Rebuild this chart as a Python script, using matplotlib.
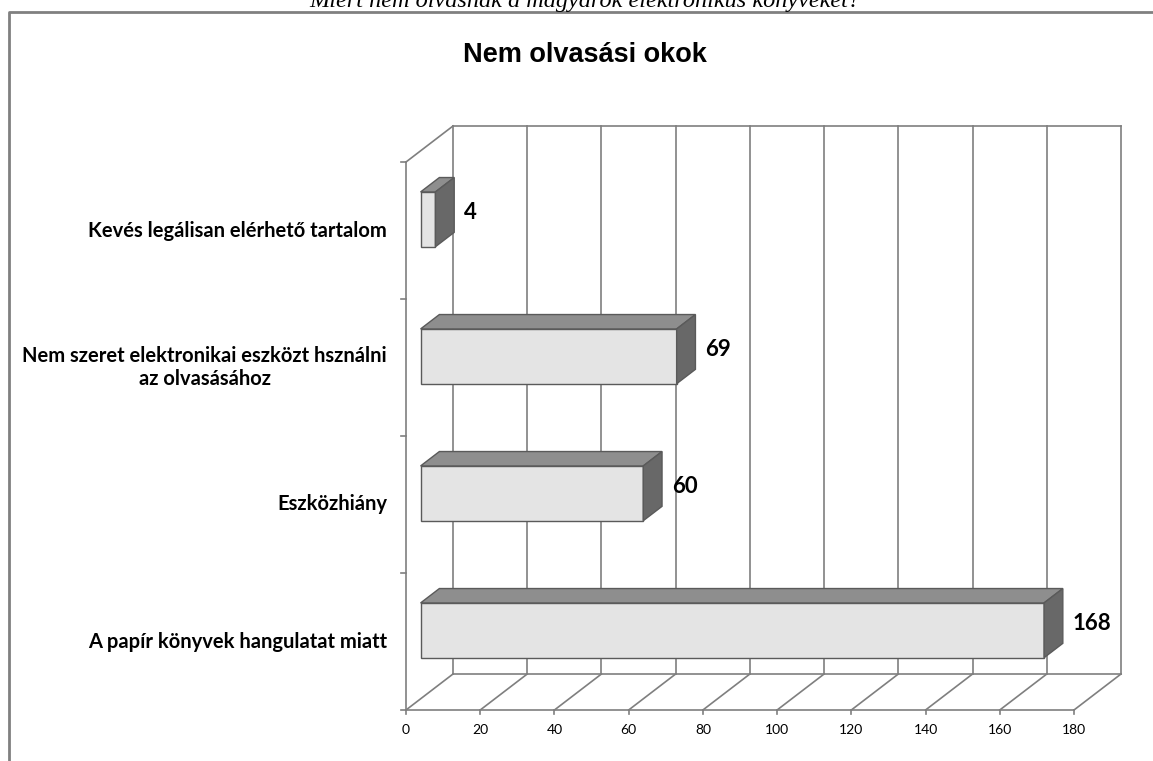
import matplotlib
matplotlib.use("Agg")
import matplotlib.pyplot as plt
import matplotlib.transforms as mtransforms
from matplotlib.patches import Polygon

# data (top to bottom, as in the chart)
categories = [
    "Kevés legálisan elérhető tartalom",
    "Nem szeret elektronikai eszközt hsználni\naz olvasásához",
    "Eszközhiány",
    "A papír könyvek hangulatat miatt",
]
values = [4, 69, 60, 168]
x_ticks = [0, 20, 40, 60, 80, 100, 120, 140, 160, 180]
title = "Nem olvasási okok"
caption = "Miért nem olvasnak a magyarok elektronikus könyveket?"

W, H, DPI = 1153, 761, 100
DX, DY = 47, 36          # full depth offset in pixels
D_FRONT, D_BACK = 0.31, 0.71
BAR_H = 0.4

C_GRID = "#7f7f7f"
C_FRONT = "#e4e4e4"
C_TOP = "#8e8e8e"
C_SIDE = "#686868"
C_EDGE = "#5a5a5a"
LABEL_FONT = ["Lato", "DejaVu Sans"]

fig = plt.figure(figsize=(W / DPI, H / DPI), dpi=DPI)
ax = fig.add_axes([406 / W, 51 / H, 668 / W, 548 / H])
ax.set_xlim(0, 180)
ax.set_ylim(0, len(categories))
ax.axis("off")
ident = mtransforms.IdentityTransform()


def proj(v, c, d):
    # value/category through the axes, depth as a pixel offset
    x, y = ax.transData.transform((v, c))
    return (x + d * DX, y + d * DY)


def line3(p0, p1, **kw):
    a, b = proj(*p0), proj(*p1)
    ax.add_line(plt.Line2D([a[0], b[0]], [a[1], b[1]], transform=ident,
                           color=C_GRID, lw=1.2, clip_on=False, **kw))


n = len(categories)
xmax = x_ticks[-1]

# back wall: vertical gridlines + top edge
for v in x_ticks:
    line3((v, 0, 1), (v, n, 1), zorder=1)
line3((0, n, 1), (xmax, n, 1), zorder=1)
# floor
line3((0, 0, 0), (xmax, 0, 0), zorder=1)
line3((0, 0, 1), (xmax, 0, 1), zorder=1)
for v in x_ticks:
    line3((v, 0, 0), (v, 0, 1), zorder=1)
# left wall
line3((0, 0, 0), (0, n, 0), zorder=1)
line3((0, n, 0), (0, n, 1), zorder=1)

# ticks
for v in x_ticks:
    a = proj(v, 0, 0)
    ax.add_line(plt.Line2D([a[0], a[0]], [a[1], a[1] - 4], transform=ident,
                           color=C_GRID, lw=1.2, clip_on=False))
    ax.text(a[0], a[1] - 20, str(v), transform=ident, ha="center", va="center",
            fontsize=10, family=LABEL_FONT)
for k in range(n + 1):
    a = proj(0, k, 0)
    ax.add_line(plt.Line2D([a[0] - 5, a[0]], [a[1], a[1]], transform=ident,
                           color=C_GRID, lw=1.2, clip_on=False))

# bars
pos = [n - 1 - i + 0.5 for i in range(n)]
front_tf = ax.transData + mtransforms.Affine2D().translate(D_FRONT * DX, D_FRONT * DY)
ax.barh(pos, values, height=BAR_H, color=C_FRONT, edgecolor=C_EDGE, lw=1,
        transform=front_tf, zorder=3, clip_on=False)
for c, v, lab in zip(pos, values, categories):
    lo, hi = c - BAR_H / 2, c + BAR_H / 2
    top = [proj(0, hi, D_FRONT), proj(v, hi, D_FRONT), proj(v, hi, D_BACK), proj(0, hi, D_BACK)]
    side = [proj(v, lo, D_FRONT), proj(v, hi, D_FRONT), proj(v, hi, D_BACK), proj(v, lo, D_BACK)]
    ax.add_patch(Polygon(top, closed=True, transform=ident, facecolor=C_TOP,
                         edgecolor=C_EDGE, lw=1, zorder=3, clip_on=False))
    ax.add_patch(Polygon(side, closed=True, transform=ident, facecolor=C_SIDE,
                         edgecolor=C_EDGE, lw=1, zorder=3, clip_on=False))
    # value label
    px, py = proj(v, c, (D_FRONT + D_BACK) / 2)
    ax.text(px + 19, py, str(v), transform=ident, ha="left", va="center",
            fontsize=16, fontweight="bold", family=LABEL_FONT)
    # category label
    qx, qy = proj(0, c, 0)
    ax.text(qx - 19, qy, lab, transform=ident, ha="right", va="center",
            multialignment="center", fontsize=14.5, fontweight="bold",
            family=LABEL_FONT, linespacing=1.2)

# title and caption
fig.text(585 / W, 1 - 55 / H, title, ha="center", va="center", fontsize=19.5,
         fontweight="bold", family=["Liberation Sans", "DejaVu Sans"])
fig.text(585 / W, 1 - 1 / H, caption, ha="center", va="center", fontsize=17.5,
         style="italic", family=["Liberation Serif", "DejaVu Serif"])

# outer frame
fig.add_artist(plt.Line2D([9 / W, 9 / W, 1.0], [0.0, 1 - 12 / H, 1 - 12 / H],
                          transform=fig.transFigure, color="#808080", lw=2))

fig.savefig("out.png", dpi=DPI, facecolor="white")
